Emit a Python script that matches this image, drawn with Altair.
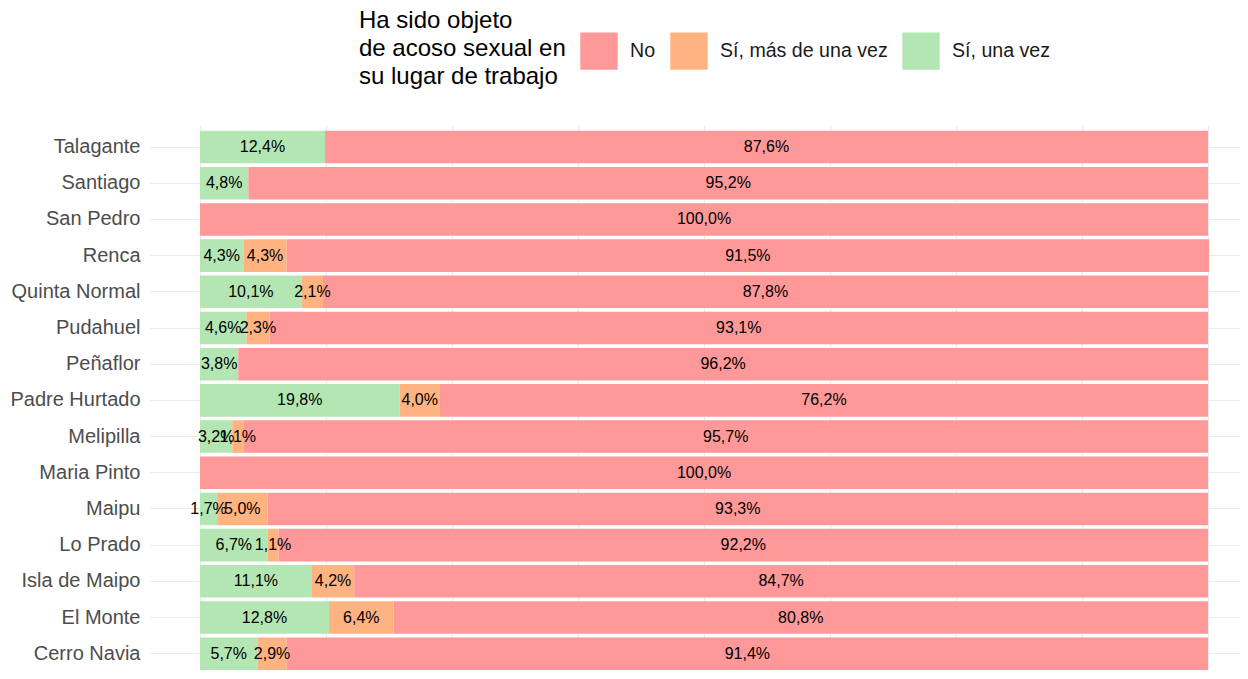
import altair as alt
import pandas as pd

comunas = ["Talagante", "Santiago", "San Pedro", "Renca", "Quinta Normal", "Pudahuel",
           "Peñaflor", "Padre Hurtado", "Melipilla", "Maria Pinto", "Maipu", "Lo Prado",
           "Isla de Maipo", "El Monte", "Cerro Navia"]
si_una = [12.4, 4.8, 0.0, 4.3, 10.1, 4.6, 3.8, 19.8, 3.2, 0.0, 1.7, 6.7, 11.1, 12.8, 5.7]
si_mas = [0.0, 0.0, 0.0, 4.3, 2.1, 2.3, 0.0, 4.0, 1.1, 0.0, 5.0, 1.1, 4.2, 6.4, 2.9]
no = [87.6, 95.2, 100.0, 91.5, 87.8, 93.1, 96.2, 76.2, 95.7, 100.0, 93.3, 92.2, 84.7, 80.8, 91.4]

cats = ["No", "Sí, más de una vez", "Sí, una vez"]
colors = ["#FF9999", "#FFB380", "#B3E6B3"]
legend_title = "Ha sido objeto\nde acoso sexual en\nsu lugar de trabajo"

rows = []
for i, c in enumerate(comunas):
    for cat, vals, order in [("Sí, una vez", si_una, 0), ("Sí, más de una vez", si_mas, 1), ("No", no, 2)]:
        v = vals[i]
        if v > 0:
            rows.append({"comuna": c, "cat": cat, "pct": v / 100.0, "ord": order,
                         "label": f"{v:.1f}".replace(".", ",") + "%"})
df = pd.DataFrame(rows)

xmin = -50 / 1008
xmax = 1040 / 1008

base = alt.Chart(df).transform_stack(
    stack="pct", groupby=["comuna"], sort=[alt.SortField("ord", order="ascending")], as_=["v0", "v1"]
).transform_calculate(mid="(datum.v0 + datum.v1) / 2")

yenc = alt.Y("comuna:N", sort=comunas, title=None,
             scale=alt.Scale(paddingInner=0.1, paddingOuter=0.08, align=1),
             axis=alt.Axis(domain=False, ticks=False, labelFontSize=20, labelColor="#4D4D4D",
                           labelFont="Liberation Sans", labelPadding=10, grid=True,
                           gridColor="#EBEBEB", gridWidth=1.2, bandPosition=0.5,
                           minExtent=142, maxExtent=142))

bars = base.mark_bar().encode(
    x=alt.X("v0:Q", scale=alt.Scale(domain=[xmin, xmax], nice=False, zero=False), title=None,
            axis=alt.Axis(values=[i / 8 for i in range(9)], labels=False, ticks=False, domain=False,
                          grid=True, gridColor="#EBEBEB", gridWidth=1.2)),
    x2="v1:Q",
    y=yenc,
    color=alt.Color("cat:N", scale=alt.Scale(domain=cats, range=colors),
                    legend=alt.Legend(title=None,
                                      orient="none", legendX=430, legendY=-93, direction="horizontal",
                                      labelFontSize=19.6, labelFont="Liberation Sans", labelColor="#1A1A1A",
                                      labelLimit=400,
                                      symbolType="square", symbolSize=1400, symbolStrokeWidth=0,
                                      symbolOpacity=1, columnPadding=14, labelOffset=12)),
)

text = base.mark_text(fontSize=16, font="Liberation Sans", color="#000000").encode(
    x=alt.X("mid:Q"),
    y=alt.Y("comuna:N", sort=comunas),
    text="label:N",
)

title = alt.Chart(pd.DataFrame({"t": [legend_title]})).mark_text(
    align="left", baseline="top", lineBreak="\n", fontSize=24, lineHeight=28,
    font="Liberation Sans", color="#000000"
).encode(x=alt.value(209), y=alt.value(-116), text="t:N")

chart = (bars + text + title).properties(
    width=1090, height=545,
    autosize=alt.AutoSizeParams(type="none"),
    padding={"left": 142, "top": 117, "right": 0, "bottom": 0},
).configure_view(strokeWidth=0)

chart.save("out.html", embed_options={"renderer": "svg", "actions": False})
